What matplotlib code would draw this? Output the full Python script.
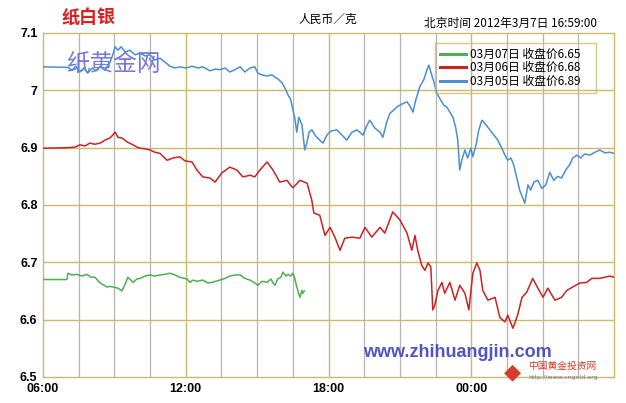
import matplotlib
matplotlib.use("Agg")
import matplotlib.pyplot as plt
from matplotlib.ticker import MultipleLocator, FuncFormatter

plt.rcParams['font.family'] = ['Noto Sans CJK SC', 'DejaVu Sans']

# 03月05日 (blue)
blue_t = ["06:00", "07:03", "07:13", "07:23", "07:33", "07:43", "07:53", "08:04", "08:14", "08:24",
          "08:36", "08:49", "08:56", "09:02", "09:09", "09:17", "09:27", "09:39", "09:52", "10:05",
          "10:17", "10:30", "10:42", "10:55", "11:08", "11:20", "11:33", "11:45", "12:00", "12:16",
          "12:31", "12:43", "13:01", "13:14", "13:26", "13:39", "13:51", "14:04", "14:17", "14:29",
          "14:42", "14:54", "15:02", "15:12", "15:25", "15:37", "15:52", "16:02", "16:10", "16:18",
          "16:25", "16:30", "16:35", "16:40", "16:45", "16:53", "17:00", "17:06", "17:11", "17:18",
          "17:28", "17:38", "17:46", "17:56", "18:06", "18:21", "18:34", "18:46", "18:59", "19:12",
          "19:27", "19:37", "19:44", "19:57", "20:10", "20:17", "20:27", "20:35", "20:45", "20:52",
          "21:05", "21:18", "21:25", "21:33", "21:40", "21:50", "22:00", "22:08", "22:13", "22:18",
          "22:26", "22:33", "22:43", "22:51", "22:58", "23:06", "23:14", "23:21", "23:26", "23:31",
          "23:36", "23:44", "23:51", "23:59", "00:04", "00:12", "00:19", "00:27", "00:37", "00:47",
          "00:57", "01:07", "01:17", "01:25", "01:32", "01:40", "01:47", "01:55", "02:02", "02:10",
          "02:15", "02:23", "02:30", "02:38", "02:48", "02:58", "03:08", "03:18", "03:28", "03:38",
          "03:48", "03:58", "04:08", "04:16", "04:26", "04:36", "04:46", "04:59", "05:12", "05:24",
          "05:37", "05:49", "06:00"]
blue_v = [7.041, 7.040, 7.035, 7.042, 7.032, 7.039, 7.030, 7.039, 7.034, 7.042,
          7.035, 7.049, 7.062, 7.076, 7.070, 7.076, 7.067, 7.070, 7.062, 7.065,
          7.060, 7.062, 7.053, 7.056, 7.049, 7.042, 7.039, 7.041, 7.039, 7.042,
          7.039, 7.041, 7.034, 7.037, 7.036, 7.039, 7.032, 7.036, 7.041, 7.032,
          7.039, 7.041, 7.030, 7.027, 7.025, 7.027, 7.020, 7.014, 7.004, 6.992,
          6.983, 6.966, 6.952, 6.927, 6.953, 6.940, 6.896, 6.910, 6.927, 6.931,
          6.920, 6.913, 6.908, 6.922, 6.929, 6.931, 6.922, 6.913, 6.927, 6.931,
          6.922, 6.939, 6.948, 6.934, 6.927, 6.918, 6.945, 6.960, 6.966, 6.971,
          6.976, 6.980, 6.973, 6.962, 6.983, 7.006, 7.018, 7.035, 7.044, 7.032,
          7.014, 6.995, 6.983, 6.974, 6.971, 6.962, 6.953, 6.934, 6.913, 6.861,
          6.878, 6.896, 6.882, 6.899, 6.884, 6.905, 6.931, 6.948, 6.940, 6.931,
          6.922, 6.913, 6.899, 6.887, 6.878, 6.882, 6.870, 6.847, 6.826, 6.812,
          6.803, 6.835, 6.826, 6.840, 6.843, 6.829, 6.835, 6.857, 6.843, 6.850,
          6.847, 6.861, 6.870, 6.882, 6.887, 6.882, 6.889, 6.887, 6.892, 6.896,
          6.891, 6.892, 6.890]

# 03月06日 (red)
red_t = ["06:00", "07:03", "07:21", "07:33", "07:46", "07:58", "08:11", "08:24", "08:36", "08:49",
         "08:56", "09:02", "09:09", "09:19", "09:32", "09:44", "09:57", "10:05", "10:17", "10:30",
         "10:42", "10:55", "11:13", "11:28", "11:45", "11:58", "12:16", "12:28", "12:43", "13:01",
         "13:14", "13:31", "13:51", "14:09", "14:24", "14:42", "14:54", "15:07", "15:25", "15:40",
         "15:57", "16:15", "16:30", "16:48", "17:06", "17:18", "17:23", "17:38", "17:51", "18:04",
         "18:16", "18:29", "18:41", "18:59", "19:19", "19:32", "19:49", "20:10", "20:22", "20:42",
         "21:00", "21:18", "21:30", "21:38", "21:45", "21:55", "22:03", "22:11", "22:18", "22:23",
         "22:28", "22:36", "22:46", "22:53", "23:06", "23:19", "23:31", "23:44", "23:54", "00:04",
         "00:14", "00:22", "00:29", "00:42", "01:00", "01:12", "01:25", "01:32", "01:45", "01:57",
         "02:08", "02:20", "02:35", "02:48", "03:01", "03:13", "03:31", "03:48", "04:01", "04:16",
         "04:34", "04:51", "05:04", "05:24", "05:49", "06:00"]
red_v = [6.899, 6.900, 6.901, 6.905, 6.903, 6.908, 6.906, 6.908, 6.913, 6.917,
         6.922, 6.927, 6.918, 6.917, 6.910, 6.906, 6.901, 6.899, 6.898, 6.896,
         6.892, 6.890, 6.878, 6.882, 6.884, 6.877, 6.875, 6.861, 6.849, 6.847,
         6.840, 6.856, 6.866, 6.861, 6.849, 6.852, 6.849, 6.861, 6.875, 6.861,
         6.840, 6.843, 6.830, 6.843, 6.838, 6.808, 6.786, 6.782, 6.747, 6.761,
         6.744, 6.721, 6.742, 6.744, 6.742, 6.761, 6.744, 6.761, 6.751, 6.788,
         6.774, 6.751, 6.721, 6.747, 6.721, 6.695, 6.686, 6.699, 6.692, 6.617,
         6.625, 6.651, 6.665, 6.646, 6.665, 6.634, 6.660, 6.646, 6.617, 6.681,
         6.699, 6.686, 6.651, 6.634, 6.639, 6.604, 6.596, 6.608, 6.585, 6.608,
         6.639, 6.648, 6.672, 6.655, 6.639, 6.655, 6.634, 6.639, 6.651, 6.657,
         6.664, 6.665, 6.672, 6.672, 6.676, 6.674]

# 03月07日 (green)
green_t = ["06:00", "07:00", "07:03", "07:13", "07:26", "07:38", "07:51", "08:01", "08:11", "08:24",
           "08:34", "08:41", "08:49", "08:56", "09:09", "09:19", "09:27", "09:34", "09:42", "09:47",
           "09:57", "10:05", "10:17", "10:30", "10:42", "10:55", "11:08", "11:20", "11:33", "11:45",
           "12:03", "12:11", "12:18", "12:28", "12:43", "12:56", "13:06", "13:16", "13:26", "13:39",
           "13:51", "14:04", "14:17", "14:29", "14:42", "14:52", "15:02", "15:12", "15:25", "15:35",
           "15:40", "15:45", "15:52", "16:00", "16:05", "16:13", "16:18", "16:25", "16:30", "16:35",
           "16:40", "16:45", "16:48", "16:53", "16:55", "16:59"]
green_v = [6.670, 6.670, 6.681, 6.678, 6.679, 6.676, 6.679, 6.674, 6.674, 6.664,
           6.660, 6.657, 6.658, 6.657, 6.655, 6.650, 6.662, 6.674, 6.669, 6.665,
           6.671, 6.672, 6.676, 6.678, 6.676, 6.678, 6.679, 6.681, 6.678, 6.674,
           6.671, 6.665, 6.669, 6.667, 6.669, 6.664, 6.665, 6.667, 6.669, 6.672,
           6.676, 6.678, 6.678, 6.672, 6.669, 6.665, 6.660, 6.667, 6.665, 6.671,
           6.664, 6.660, 6.671, 6.674, 6.683, 6.676, 6.679, 6.676, 6.681, 6.672,
           6.657, 6.645, 6.639, 6.651, 6.646, 6.650]

labels = ["03月07日 收盘价6.65", "03月06日 收盘价6.68", "03月05日 收盘价6.89"]
colors = ["#4caf50", "#cc2222", "#4a8fd4"]
x_labels = ["06:00", "12:00", "18:00", "00:00"]
y_ticks = [6.5, 6.6, 6.7, 6.8, 6.9, 7.0, 7.1]


def to_hours(times):
    # hours after 06:00, rolling past midnight
    out = []
    prev = -1
    for t in times:
        h, m = t.split(":")
        v = (int(h) - 6) % 24 + int(m) / 60
        if v < prev:
            v += 24
        out.append(v)
        prev = v
    return out


gold = "#cdb96a"
fig = plt.figure(figsize=(6.26, 4.03), dpi=100)
ax = fig.add_axes([43 / 626, 1 - 377 / 403, 571 / 626, 344 / 403])

# grid: gray every 1.5 h, gold every 6 h and every 0.1 vertically
for k in range(1, 16):
    h = k * 1.5
    if h % 6:
        ax.axvline(h, color="#b4b4b4", lw=0.9, zorder=0)
for h in (6, 12, 18):
    ax.axvline(h, color=gold, lw=1.0, zorder=0.5)
for y in y_ticks[1:-1]:
    ax.axhline(y, color=gold, lw=1.0, zorder=0.5)

ax.text(0.04, 0.91, "纸黄金网", transform=ax.transAxes, fontsize=17,
        color="#6b6bd2", alpha=0.9, va="center", zorder=1)
ax.text(0.561, 0.07, "www.zhihuangjin.com", transform=ax.transAxes, fontsize=13,
        fontweight="bold", color="#5252c9", family=["Liberation Sans"], va="center", zorder=1)

series = [(green_t, green_v), (red_t, red_v), (blue_t, blue_v)]
handles = []
for (t, v), c, lab in zip(series, colors, labels):
    ln, = ax.plot(to_hours(t), v, color=c, lw=1.1, label=lab, zorder=3)
    handles.append(ln)

ax.set_xlim(0, 24)
ax.set_ylim(6.5, 7.1)
ax.set_xticks([0, 6, 12, 18])
ax.set_xticklabels(x_labels)
ax.set_yticks(y_ticks)
ax.yaxis.set_major_formatter(FuncFormatter(lambda v, p: f"{v:g}"))
ax.tick_params(length=0, pad=4)
for lab in ax.get_xticklabels() + ax.get_yticklabels():
    lab.set_fontfamily(["Liberation Sans"])
    lab.set_fontweight("bold")
    lab.set_fontsize(9)
for s in ax.spines.values():
    s.set_color(gold)
    s.set_linewidth(1.0)

leg = ax.legend(handles=handles, loc="upper left",
                bbox_to_anchor=(392 / 571, 0.814, 161 / 571, 0.157), mode="expand",
                fontsize=8.5, frameon=True, fancybox=False, handlelength=2.2,
                handletextpad=0.4, labelspacing=0.05, borderpad=0.4, borderaxespad=0)
leg.get_frame().set_edgecolor(gold)
leg.get_frame().set_facecolor("none")
leg.get_frame().set_linewidth(1.0)
for ln in leg.get_lines():
    ln.set_linewidth(2.2)

fig.text(62 / 626, 1 - 18 / 403, "纸白银", fontsize=13, fontweight="bold",
         color="#dd1f1f", va="center")
fig.text(298 / 626, 1 - 19 / 403, "人民币／克", fontsize=8.5, color="black", va="center")
fig.text(424 / 626, 1 - 23 / 403, "北京时间 2012年3月7日 16:59:00", fontsize=8.5,
         color="black", va="center")

# logo
fig.text(513 / 626, 1 - 372 / 403, "◆", fontsize=16, color="#d63b2b",
         family=["DejaVu Sans"], ha="center", va="center")
fig.text(528 / 626, 1 - 366 / 403, "中国黄金投资网", fontsize=7, color="#d63b2b", va="center")
fig.text(528 / 626, 1 - 377 / 403, "http://www.cngold.org", fontsize=4.5, color="#777777",
         family=["DejaVu Sans"], va="center")

fig.savefig("out.png", dpi=100)
